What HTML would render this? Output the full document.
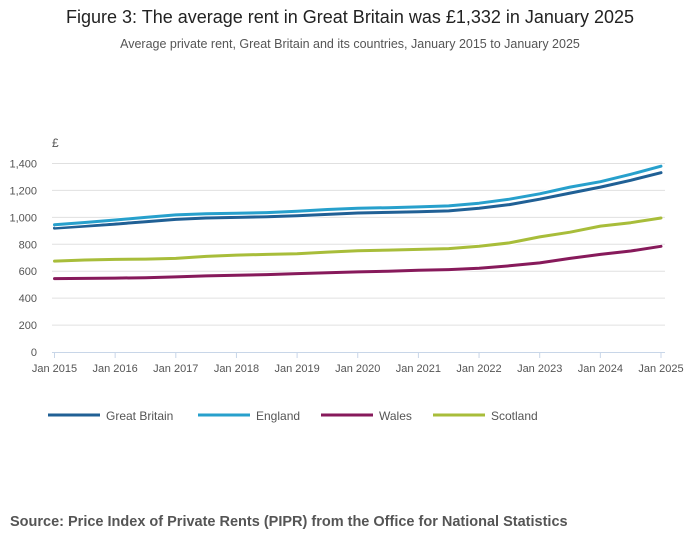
<!DOCTYPE html>
<html><head><meta charset="utf-8"><style>
body{margin:0;background:#fff;font-family:"Liberation Sans",sans-serif;}
#wrap{position:relative;width:700px;height:549px;overflow:hidden}
.t{position:absolute;left:0;width:700px;text-align:center}
</style></head><body>
<div id="wrap">
<div class="t" style="top:7px;font-size:18px;color:#222">Figure 3: The average rent in Great Britain was £1,332 in January 2025</div>
<div class="t" style="top:37px;font-size:12.5px;color:#555">Average private rent, Great Britain and its countries, January 2015 to January 2025</div>
<svg id="c" width="700" height="549" style="position:absolute;left:0;top:0"></svg>
<div style="position:absolute;left:10px;top:514px;font-size:14.5px;font-weight:bold;color:#555">Source: Price Index of Private Rents (PIPR) from the Office for National Statistics</div>
</div>
<script>
const dates=[2015,2015.5,2016,2016.5,2017,2017.5,2018,2018.5,2019,2019.5,2020,2020.5,2021,2021.5,2022,2022.5,2023,2023.5,2024,2024.5,2025];
const gbValues=[920,935,950,968,985,995,1000,1005,1012,1022,1032,1037,1042,1048,1068,1095,1135,1180,1225,1275,1332];
const englandValues=[945,962,980,1000,1018,1027,1030,1035,1045,1058,1068,1072,1078,1085,1105,1135,1175,1225,1265,1320,1380];
const walesValues=[545,547,549,552,558,565,570,575,582,588,595,600,607,612,622,640,662,695,725,750,785];
const scotlandValues=[675,683,688,690,695,710,720,725,730,742,752,757,762,768,785,810,855,890,935,960,995];
const yTicks=[0,200,400,600,800,1000,1200,1400];
const yTickLabels=["0","200","400","600","800","1,000","1,200","1,400"];
const xTicks=[2015,2016,2017,2018,2019,2020,2021,2022,2023,2024,2025];
const seriesNames=["Great Britain","England","Wales","Scotland"];
const colors=["#206095","#27a0cc","#871a5b","#a8bd3a"];
const svg=document.getElementById('c');const NS='http://www.w3.org/2000/svg';
const X=v=>54.5+(v-2015)*60.65;
const Y=v=>352-v*(188.5/1400);
function mk(t,a,p){const e=document.createElementNS(NS,t);for(const k in a)e.setAttribute(k,a[k]);(p||svg).appendChild(e);return e;}
yTicks.forEach((v,i)=>{
 if(v>0){const g=mk('line',{x1:52,x2:665,y1:Y(v),y2:Y(v),stroke:'#e0e0e0','stroke-width':1});
 
 }
 const t=mk('text',{x:37,y:Y(v)+4,'text-anchor':'end','font-size':11,fill:'#555'});t.textContent=yTickLabels[i];
 
 
});
const yu=mk('text',{x:52,y:147,'font-size':12,fill:'#555'});yu.textContent='£';


const ax=mk('line',{x1:52,x2:665,y1:352.5,y2:352.5,stroke:'#c8d6e8','stroke-width':1});


xTicks.forEach(v=>{
 const tk=mk('line',{x1:X(v),x2:X(v),y1:352,y2:358,stroke:'#c8d6e8'});
 
 
 const t=mk('text',{x:X(v),y:372,'text-anchor':'middle','font-size':11,fill:'#555'});t.textContent='Jan '+v;
 
 
});
[gbValues,englandValues,walesValues,scotlandValues].forEach((vals,i)=>{
 const d=vals.map((v,j)=>(j?'L':'M')+X(dates[j]).toFixed(1)+','+Y(v).toFixed(1)).join(' ');
 const halo=mk('path',{d:d,fill:'none',stroke:'#fff','stroke-width':5,'stroke-linejoin':'round'});
 
 
 const p=mk('path',{d:d,fill:'none',stroke:colors[i],'stroke-width':3,'stroke-linejoin':'round','stroke-linecap':'round'});
 
 
});
const lx=[48,198,321,433];
seriesNames.forEach((n,i)=>{
 const l=mk('line',{x1:lx[i],x2:lx[i]+52,y1:415,y2:415,stroke:colors[i],'stroke-width':3});
 
 
 const t=mk('text',{x:lx[i]+58,y:420,'font-size':12,fill:'#555'});t.textContent=n;
 
 
});
</script>
</body></html>
